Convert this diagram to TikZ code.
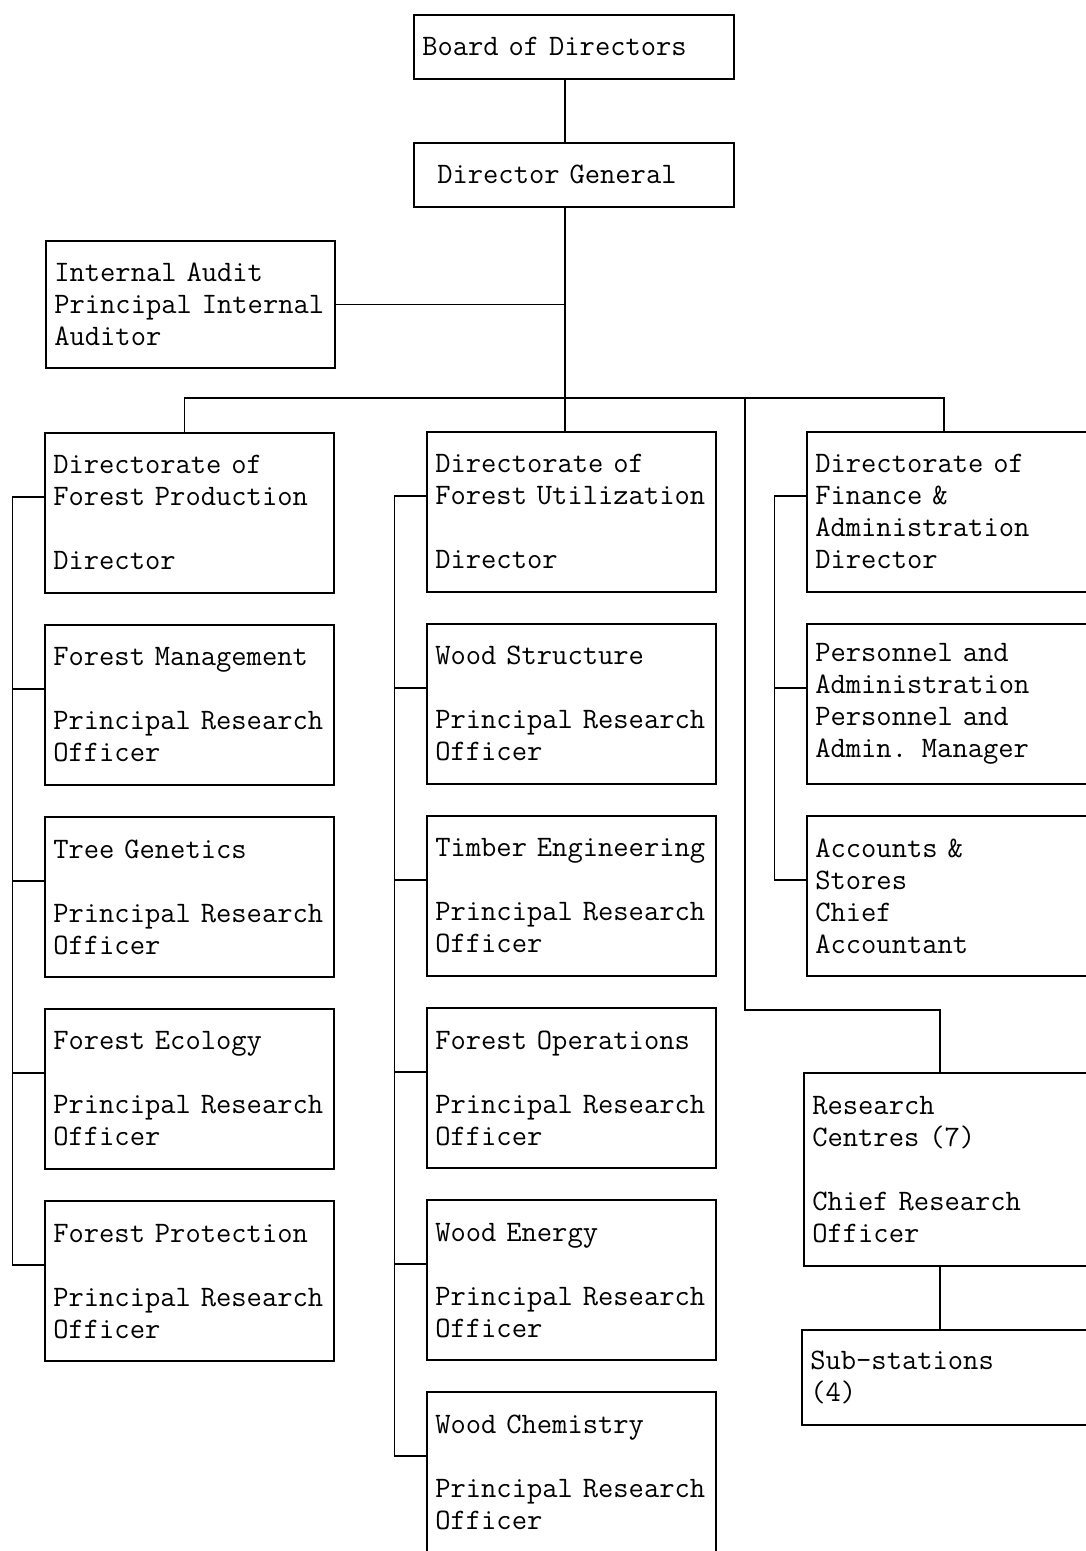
\documentclass[tikz,border=0pt]{standalone}
\usepackage{fontspec}
\usetikzlibrary{positioning,calc}

\begin{document}
\begin{tikzpicture}[font=\ttfamily\fontsize{16.9}{18.2}\selectfont, line width=0.9pt,
  unit/.style={draw, align=left, anchor=north west, inner xsep=1.7mm, inner ysep=0pt, minimum height=3.2cm, text width=5.44cm},
  head/.style={unit, text width=6.06cm, minimum height=1.28cm},
  fin/.style={unit, text width=5.66cm}]
\useasboundingbox (0,0) rectangle (21.72,-31.02);
\node[head] (board) at (8.26,-0.28) {Board of Directors};
\node[head] (dg) at (8.26,-2.84) {\hspace*{3mm}Director General};
\node[unit, minimum height=2.54cm] (audit) at (0.9,-4.8) {Internal Audit\\Principal Internal\\Auditor};
% forest production
\node[unit] (fp) at (0.88,-8.64) {Directorate of\\Forest Production\\[\baselineskip]Director};
\node[unit, below=6.1mm of fp] (fm) {Forest Management\\[\baselineskip]Principal Research\\Officer};
\node[unit, below=6.1mm of fm] (tg) {Tree Genetics\\[\baselineskip]Principal Research\\Officer};
\node[unit, below=6.1mm of tg] (fe) {Forest Ecology\\[\baselineskip]Principal Research\\Officer};
\node[unit, below=6.1mm of fe] (fpr) {Forest Protection\\[\baselineskip]Principal Research\\Officer};
% forest utilization
\node[unit] (fu) at (8.52,-8.62) {Directorate of\\Forest Utilization\\[\baselineskip]Director};
\node[unit, below=6.1mm of fu] (ws) {Wood Structure\\[\baselineskip]Principal Research\\Officer};
\node[unit, below=6.1mm of ws] (te) {Timber Engineering\\[\baselineskip]Principal Research\\Officer};
\node[unit, below=6.1mm of te] (fo) {Forest Operations\\[\baselineskip]Principal Research\\Officer};
\node[unit, below=6.1mm of fo] (we) {Wood Energy\\[\baselineskip]Principal Research\\Officer};
\node[unit, below=6.1mm of we] (wc) {Wood Chemistry\\[\baselineskip]Principal Research\\Officer};
% finance and administration
\node[fin] (fa) at (16.12,-8.62) {Directorate of\\Finance \&\\Administration\\Director};
\node[fin, below=6.1mm of fa] (pa) {Personnel and\\Administration\\Personnel and\\Admin. Manager};
\node[fin, below=6.1mm of pa] (acc) {Accounts \&\\Stores\\Chief\\Accountant};
\node[fin, minimum height=3.86cm] (rc) at (16.06,-21.44) {Research\\Centres (7)\\[\baselineskip]Chief Research\\Officer};
\node[fin, minimum height=1.9cm] (sub) at (16.02,-26.58) {Sub-stations\\(4)};
\coordinate (top) at (11.3,-7.96);
\coordinate (barR) at (18.88,-7.96);
\coordinate (rbar) at (14.9,-7.96);
\coordinate (rturn) at (14.9,-20.2);
\coordinate (rcin) at (18.8,-21.44);
\draw (board.south -| top) -- (dg.north -| top);
\draw (dg.south -| top) -- (top);
\draw (audit.east) -- (audit.east -| top);
\draw (fp.north) ++(-1mm,0) |- (barR) -- (barR |- fa.north);
\draw (top) -- (top |- fu.north);
\draw (rbar) -- (rturn) -| (rcin);
\draw (rc.south -| rcin) -- (sub.north -| rcin);
\foreach \a/\b in {fp/fpr,fu/wc,fa/acc}
  \draw ([yshift=3.2mm]\a.west) -| ([xshift=-6.3mm,yshift=3.2mm]\b.west) -- ([yshift=3.2mm]\b.west);
\foreach \b in {fm,tg,fe,ws,te,fo,we,pa}
  \draw ([yshift=3.2mm]\b.west) -- ++(-6.3mm,0);
\end{tikzpicture}
\end{document}
